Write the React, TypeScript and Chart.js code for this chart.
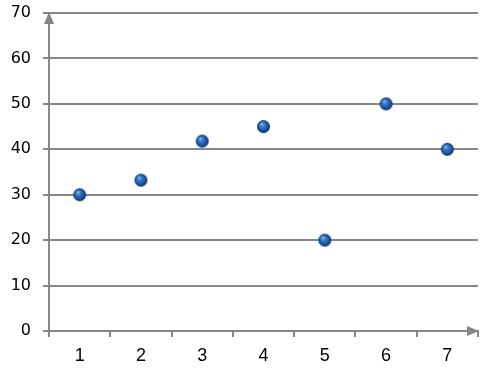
import React, { useEffect, useRef } from 'react';
import { Chart, registerables } from 'chart.js';

Chart.register(...registerables);

const categories = ['1', '2', '3', '4', '5', '6', '7'];
const values = [30, 33.2, 41.8, 45, 20, 50, 40];
const yMin = 0;
const yMax = 70;
const yStep = 10;

const GRAY = '#868686';

function makeSphere(r: number): HTMLCanvasElement {
  const c = document.createElement('canvas');
  const s = Math.ceil(r * 2 + 2);
  c.width = s;
  c.height = s;
  const ctx = c.getContext('2d')!;
  const cx = s / 2, cy = s / 2;
  const g = ctx.createRadialGradient(cx - r * 0.3, cy - r * 0.4, r * 0.05, cx, cy, r);
  g.addColorStop(0, '#8cbcf0');
  g.addColorStop(0.3, '#3a7cca');
  g.addColorStop(0.7, '#1b57a3');
  g.addColorStop(1, '#0b2c5e');
  ctx.fillStyle = g;
  ctx.beginPath();
  ctx.arc(cx, cy, r, 0, Math.PI * 2);
  ctx.fill();
  return c;
}

const arrowPlugin = {
  id: 'axisArrows',
  afterDraw(chart: any) {
    const { ctx, chartArea } = chart;
    const { left, top, right, bottom } = chartArea;
    ctx.save();
    ctx.fillStyle = GRAY;
    ctx.beginPath();
    ctx.moveTo(left, top - 1);
    ctx.lineTo(left - 5, top + 11);
    ctx.lineTo(left + 5, top + 11);
    ctx.closePath();
    ctx.fill();
    ctx.beginPath();
    ctx.moveTo(right + 1, bottom);
    ctx.lineTo(right - 11, bottom - 5);
    ctx.lineTo(right - 11, bottom + 5);
    ctx.closePath();
    ctx.fill();
    ctx.restore();
  },
};

export default function App() {
  const ref = useRef<HTMLCanvasElement | null>(null);
  useEffect(() => {
    if (!ref.current) return;
    const sphere = makeSphere(6.5);
    const chart = new Chart(ref.current, {
      type: 'line',
      data: {
        labels: categories,
        datasets: [
          {
            data: values,
            showLine: false,
            pointStyle: sphere as any,
            pointRadius: 7,
            pointHoverRadius: 7,
          },
        ],
      },
      options: {
        responsive: false,
        animation: false,
        events: [],
        layout: { padding: { top: 13, right: 12, left: 0, bottom: 0 } },
        plugins: { legend: { display: false }, tooltip: { enabled: false } },
        scales: {
          x: {
            type: 'category',
            offset: true,
            grid: {
              display: true,
              offset: true,
              drawOnChartArea: false,
              drawTicks: true,
              tickLength: 6,
              color: GRAY,
              lineWidth: 2,
            },
            border: { display: true, color: GRAY, width: 2 },
            ticks: {
              padding: 8,
              color: '#000',
              font: { family: 'Liberation Sans', size: 18 },
            },
            afterFit: (scale: any) => {
              scale.height = 44;
              scale.paddingLeft = 0;
              scale.paddingRight = 0;
            },
          },
          y: {
            min: yMin,
            max: yMax,
            grid: {
              color: GRAY,
              lineWidth: 2,
              tickLength: 6,
              drawTicks: true,
            },
            border: { display: true, color: GRAY, width: 2 },
            ticks: {
              stepSize: yStep,
              padding: 12,
              color: '#000',
              font: { family: 'DejaVu Sans', size: 16 },
            },
            afterFit: (scale: any) => {
              scale.width = 49;
              scale.paddingTop = 0;
              scale.paddingBottom = 0;
            },
          },
        },
      },
      plugins: [arrowPlugin],
    });
    return () => chart.destroy();
  }, []);
  return (
    <div style={{ position: 'absolute', left: 0, top: 0, width: 490, height: 375, background: '#fff' }}>
      <canvas ref={ref} width={490} height={375} style={{ display: 'block' }} />
    </div>
  );
}
